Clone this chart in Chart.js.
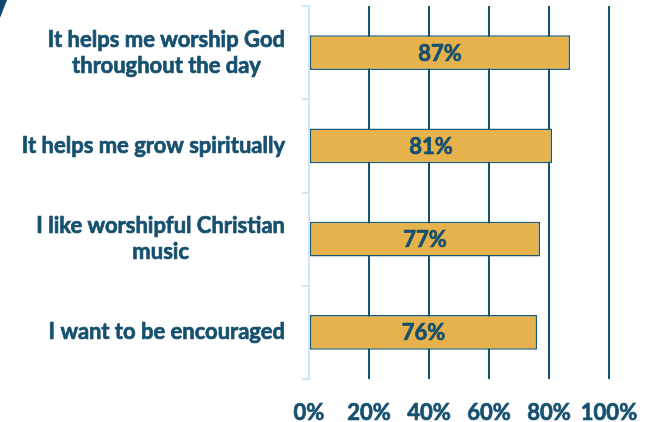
<!DOCTYPE html>
<html>
<head>
<meta charset="utf-8">
<script src="https://cdn.jsdelivr.net/npm/chart.js@4/dist/chart.umd.min.js"></script>
<style>
  html, body { margin: 0; padding: 0; background: #fff; }
  #wrap { position: relative; width: 651px; height: 422px; }
  #corner { position: absolute; left: 0; top: 0; width: 7px; height: 18px; background: #0f4a6e; clip-path: polygon(0 0, 100% 0, 0 100%); }
</style>
</head>
<body>
<div id="wrap">
  <canvas id="chart" width="651" height="422"></canvas>
  <div id="corner"></div>
</div>
<script>
// datos
const categories = [
    ['It helps me worship God', 'throughout the day'],
    ['It helps me grow spiritually'],
    ['I like worshipful Christian', 'music'],
    ['I want to be encouraged']
];
const values = [87, 81, 77, 76];
const xTicks = [0, 20, 40, 60, 80, 100];

const navy = '#16506f';
const fontFam = 'Lato, "Open Sans", sans-serif';

// texto en negrita un poco más grueso (parecido a Calibri Bold)
function boldText(ctx, text, x, y) {
    ctx.lineWidth = 0.7;
    ctx.strokeStyle = navy;
    ctx.strokeText(text, x, y);
    ctx.fillText(text, x, y);
}

// etiquetas de categoría: bloque alineado a la derecha, líneas centradas (como Excel)
const categoryLabels = {
    id: 'categoryLabels',
    afterDraw(chart) {
        const ctx = chart.ctx;
        const yScale = chart.scales.y;
        ctx.save();
        ctx.font = 'bold 22px ' + fontFam;
        ctx.fillStyle = navy;
        ctx.textAlign = 'center';
        ctx.textBaseline = 'middle';
        const right = 285;
        const lineH = 26;
        categories.forEach((lines, i) => {
            const cy = yScale.getPixelForValue(i);
            const maxW = Math.max(...lines.map(l => ctx.measureText(l).width));
            const cx = right - maxW / 2;
            const y0 = cy - (lines.length - 1) * lineH / 2;
            lines.forEach((l, j) => boldText(ctx, l, cx, y0 + j * lineH));
        });
        ctx.restore();
    }
};

// porcentajes dentro de cada barra
const barLabels = {
    id: 'barLabels',
    afterDatasetsDraw(chart) {
        const ctx = chart.ctx;
        const meta = chart.getDatasetMeta(0);
        ctx.save();
        ctx.font = 'bold 22px ' + fontFam;
        ctx.fillStyle = navy;
        ctx.textAlign = 'center';
        ctx.textBaseline = 'middle';
        meta.data.forEach((bar, i) => {
            const cx = (bar.x + bar.base) / 2;
            boldText(ctx, values[i] + '%', cx, bar.y + 1);
        });
        ctx.restore();
    }
};

new Chart(document.getElementById('chart'), {
    type: 'bar',
    data: {
        labels: categories.map(c => c.join(' ')),
        datasets: [{
            data: values,
            backgroundColor: '#e6b24b',
            borderColor: '#1d5875',
            borderWidth: 1.5,
            borderSkipped: false,
            barPercentage: 0.37,
            categoryPercentage: 1
        }]
    },
    options: {
        indexAxis: 'y',
        responsive: false,
        animation: false,
        events: [],
        layout: { padding: { top: 6, right: 42, left: 0, bottom: 0 } },
        plugins: { legend: { display: false }, tooltip: { enabled: false } },
        scales: {
            x: {
                min: 0,
                max: 100,
                afterBuildTicks: scale => { scale.ticks = xTicks.map(v => ({ value: v })); },
                afterFit: scale => {
                    scale.height = 43;
                    scale.paddingLeft = 0;
                    scale.paddingRight = 0;
                },
                ticks: {
                    callback: v => v + '%',
                    color: navy,
                    font: { family: fontFam, size: 22, weight: 'bold' },
                    textStrokeColor: navy,
                    textStrokeWidth: 0.7,
                    maxRotation: 0,
                    minRotation: 0,
                    autoSkip: false,
                    padding: 21
                },
                grid: {
                    color: ctx => ctx.index === 0 ? 'rgba(0,0,0,0)' : navy,
                    lineWidth: 2,
                    drawTicks: false
                },
                border: { display: false }
            },
            y: {
                afterFit: scale => { scale.width = 309; },
                ticks: { display: false },
                grid: {
                    offset: true,
                    drawOnChartArea: false,
                    drawTicks: true,
                    tickLength: 7,
                    color: '#cde6fa',
                    lineWidth: 2
                },
                border: { color: '#cde6fa', width: 2 }
            }
        }
    },
    plugins: [categoryLabels, barLabels]
});
</script>
</body>
</html>
